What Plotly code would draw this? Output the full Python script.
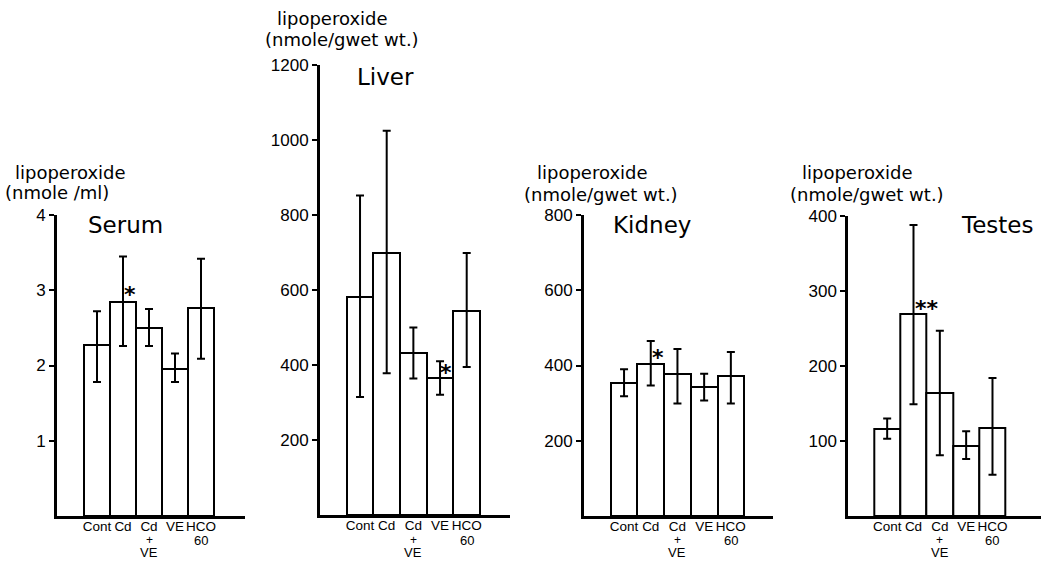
import plotly.graph_objects as go

W, H = 1041, 561

# ---------------- data ----------------
categories = ["Cont", "Cd", "Cd<br>+<br>VE", "VE", "HCO<br>60"]

serum_mean = [2.27, 2.85, 2.50, 1.95, 2.77]
serum_upper = [2.72, 3.45, 2.75, 2.16, 3.42]
serum_lower = [1.78, 2.26, 2.26, 1.78, 2.09]
serum_sig = ["", "*", "", "", ""]

liver_mean = [582, 699, 431, 366, 544]
liver_upper = [852, 1025, 500, 410, 699]
liver_lower = [315, 378, 364, 321, 395]
liver_sig = ["", "", "", "*", ""]

kidney_mean = [354, 405, 377, 343, 372]
kidney_upper = [390, 465, 444, 378, 436]
kidney_lower = [318, 347, 299, 307, 299]
kidney_sig = ["", "*", "", "", ""]

testes_mean = [116, 269, 164, 93, 118]
testes_upper = [130, 388, 247, 113, 184]
testes_lower = [103, 149, 81, 76, 55]
testes_sig = ["", "**", "", "", ""]

panel_titles = ["Serum", "Liver", "Kidney", "Testes"]
y_title_1 = ["lipoperoxide"] * 4
y_title_2 = ["(nmole /ml)", "(nmole/gwet wt.)", "(nmole/gwet wt.)", "(nmole/gwet wt.)"]
y_max = [4, 1200, 800, 400]
y_ticks = [[1, 2, 3, 4], [200, 400, 600, 800, 1000, 1200], [200, 400, 600, 800], [100, 200, 300, 400]]

# ---------------- layout geometry (pixels) ----------------
# axis x start, axis x end, left edge of first bar, bar width, baseline y, top y
geom = [
    (57, 245, 84, 26.0, 516, 215),
    (320, 510, 346.7, 26.67, 515, 65),
    (584, 773, 610.7, 26.7, 516, 215),
    (848.3, 1041, 874, 26.33, 516, 216),
]
title_pos = [(125, 225), (386, 77), (652, 225), (997, 225)]
ytitle_pos = [((13, 173), (3, 193)), ((275, 19), (263, 40)),
              ((535, 173), (522, 194)), ((800, 173), (788, 194))]
# significance marker offset from bar top (px)
sig_shift = [(7, 7), (6, 5), (7, 6), (13, 5)]
# extra category label lines: (y pixel, font size) for line 2, 3
label_line_style = [(540, 12), (552, 13)]

means = [serum_mean, liver_mean, kidney_mean, testes_mean]
uppers = [serum_upper, liver_upper, kidney_upper, testes_upper]
lowers = [serum_lower, liver_lower, kidney_lower, testes_lower]
sigs = [serum_sig, liver_sig, kidney_sig, testes_sig]

FONT = "DejaVu Sans"
TICKFONT = "Liberation Sans"

fig = go.Figure()
annotations = []
xs = list(range(len(categories)))
label_lines = [c.split("<br>") for c in categories]
first_lines = [ln[0] for ln in label_lines]

for i in range(4):
    ax0, ax1, bl, bw, yb, yt = geom[i]
    xa = "x" if i == 0 else f"x{i+1}"
    ya = "y" if i == 0 else f"y{i+1}"
    xkey = "xaxis" if i == 0 else f"xaxis{i+1}"
    ykey = "yaxis" if i == 0 else f"yaxis{i+1}"
    m, up, lo = means[i], uppers[i], lowers[i]
    fig.add_trace(go.Bar(
        x=xs, y=m, xaxis=xa, yaxis=ya, width=1.0,
        marker=dict(color="white", line=dict(color="black", width=2)),
        error_y=dict(type="data", symmetric=False,
                     array=[u - v for u, v in zip(up, m)],
                     arrayminus=[v - l for v, l in zip(m, lo)],
                     color="black", thickness=2, width=4),
        showlegend=False, hoverinfo="skip",
    ))
    c0 = bl + bw / 2
    r0 = (ax0 - c0) / bw
    r1 = (ax1 - c0) / bw
    fig.update_layout(**{
        xkey: dict(domain=[ax0 / W, ax1 / W], range=[r0, r1], anchor=ya,
                   tickmode="array", tickvals=xs, ticktext=first_lines,
                   tickangle=0, automargin=False, ticklabelstandoff=-4,
                   showline=True, linecolor="black", linewidth=3,
                   ticks="", showgrid=False, zeroline=False,
                   tickfont=dict(family=TICKFONT, size=13.5, color="black"),
                   fixedrange=True),
        ykey: dict(domain=[(H - yb) / H, (H - yt) / H], range=[0, y_max[i]], anchor=xa,
                   tickmode="array", tickvals=y_ticks[i], automargin=False,
                   showline=True, linecolor="black", linewidth=3,
                   ticks="outside", ticklen=5, tickwidth=2, tickcolor="black",
                   showgrid=False, zeroline=False,
                   tickfont=dict(family=TICKFONT, size=17, color="black"),
                   fixedrange=True),
    })
    # remaining lines of the category labels, tightly stacked under the tick labels
    for j, lines in enumerate(label_lines):
        for k, txt in enumerate(lines[1:]):
            ly, lsz = label_line_style[k]
            if txt != "+":
                lsz = 13
            annotations.append(dict(text=txt, x=xs[j], xref=xa, y=(H - ly) / H,
                                    yref="paper", showarrow=False,
                                    xanchor="center", yanchor="middle",
                                    font=dict(family=TICKFONT, size=lsz, color="black")))
    tx, ty = title_pos[i]
    annotations.append(dict(text=panel_titles[i], x=tx / W, y=(H - ty) / H,
                            xref="paper", yref="paper", showarrow=False,
                            xanchor="center", yanchor="middle",
                            font=dict(family=FONT, size=23, color="black")))
    (l1x, l1y), (l2x, l2y) = ytitle_pos[i]
    annotations.append(dict(text=y_title_1[i], x=l1x / W, y=(H - l1y) / H,
                            xref="paper", yref="paper", showarrow=False,
                            xanchor="left", yanchor="middle",
                            font=dict(family=FONT, size=18, color="black")))
    annotations.append(dict(text=y_title_2[i], x=l2x / W, y=(H - l2y) / H,
                            xref="paper", yref="paper", showarrow=False,
                            xanchor="left", yanchor="middle",
                            font=dict(family=FONT, size=18, color="black")))
    for j, s in enumerate(sigs[i]):
        if s:
            annotations.append(dict(text="<b>" + s + "</b>", x=xs[j], y=m[j], xref=xa, yref=ya,
                                    showarrow=False, xanchor="center", yanchor="bottom",
                                    xshift=sig_shift[i][0], yshift=sig_shift[i][1] - 14,
                                    font=dict(family=FONT, size=22, color="black")))

fig.update_layout(
    width=W, height=H,
    margin=dict(l=0, r=0, t=0, b=0, autoexpand=False),
    paper_bgcolor="white", plot_bgcolor="white",
    bargap=0, annotations=annotations,
)

fig.write_html("out.html", config={"displayModeBar": False},
               post_script="document.body.style.margin='0';document.body.style.overflow='hidden';")
